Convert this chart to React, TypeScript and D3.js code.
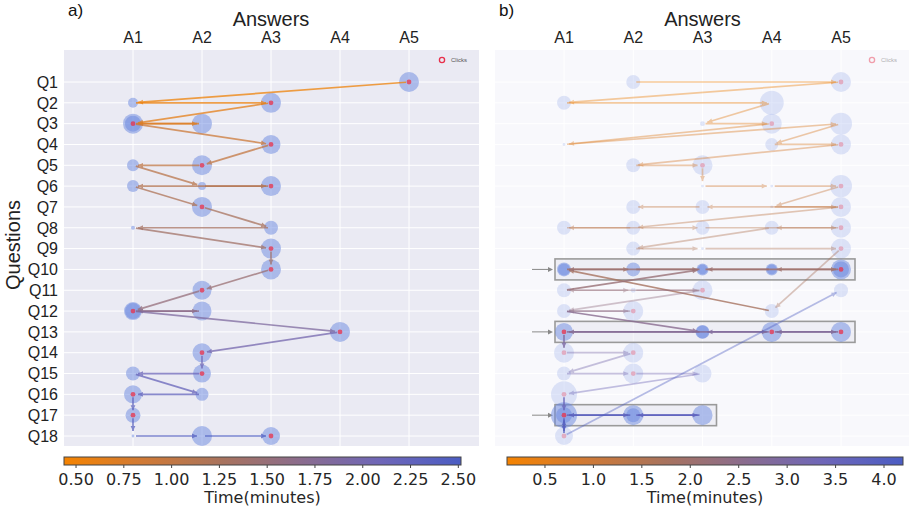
import React from 'react';
import * as d3 from 'd3';

const QUESTIONS = ['Q1','Q2','Q3','Q4','Q5','Q6','Q7','Q8','Q9','Q10','Q11','Q12','Q13','Q14','Q15','Q16','Q17','Q18'];
const ANSWERS = ['A1','A2','A3','A4','A5'];

// colormap stops (low time -> high time)
const CMAP_STOPS = ['#f58300', '#d07a36', '#a8735e', '#8a6c8e', '#6e66b8', '#4b5dc3'];

// colorbar ranges and ticks
const TIME_DOMAIN_A = [0.437, 2.514];
const TIME_TICKS_A = [0.5, 0.75, 1.0, 1.25, 1.5, 1.75, 2.0, 2.25, 2.5];
const TIME_DOMAIN_B = [0.108, 4.196];
const TIME_TICKS_B = [0.5, 1.0, 1.5, 2.0, 2.5, 3.0, 3.5, 4.0];

// nodes: [question, answer, dwell size, clicked]
const NODES_A: [number, number, number, number][] = [
  [1,5,100,1],[2,1,25,0],[2,3,100,1],[3,1,100,1],[3,1,64,0],[3,2,100,0],[4,3,90,1],
  [5,1,36,0],[5,2,100,1],[6,1,36,0],[6,2,16,0],[6,3,100,1],[7,2,100,1],[8,1,4,0],
  [8,3,49,0],[9,3,100,1],[10,3,100,1],[11,2,90,1],[12,1,81,1],[12,1,64,0],[12,2,90,0],
  [13,4,100,1],[14,2,90,1],[15,1,49,0],[15,2,81,1],[16,1,81,1],[16,2,42,0],[17,1,56,1],
  [18,1,2,0],[18,2,100,0],[18,3,81,1],
];

// transitions: [fromQ, fromA, toQ, toA, time(minutes)]
const SEGS_A: [number, number, number, number, number][] = [
  [1,5,2,1,0.5],[2,1,2,3,0.55],[2,3,3,1,0.62],[3,1,3,2,0.68],[3,2,3,1,0.72],[3,1,4,3,0.88],
  [4,3,5,2,0.98],[5,2,5,1,1.02],[5,1,6,2,1.08],[6,2,6,3,1.12],[6,3,6,1,1.15],[6,1,7,2,1.2],
  [7,2,8,3,1.26],[8,3,8,1,1.3],[8,1,9,3,1.35],[9,3,10,3,1.4],[10,3,11,2,1.45],[11,2,12,1,1.52],
  [12,1,12,2,1.6],[12,2,12,1,1.66],[12,1,13,4,1.85],[13,4,14,2,2.0],[14,2,15,2,2.08],
  [15,2,15,1,2.13],[15,1,16,2,2.18],[16,2,16,1,2.24],[16,1,17,1,2.3],[17,1,18,1,2.35],
  [18,1,18,2,2.4],[18,2,18,3,2.48],
];

const NODES_B: [number, number, number, number][] = [
  [1,2,49,0],[1,5,100,1],[2,1,49,0],[2,4,144,0],[3,3,6,0],[3,4,100,1],[3,5,121,0],
  [4,1,2,0],[4,4,42,0],[4,5,100,1],[5,2,49,0],[5,3,100,1],[6,3,2,0],[6,4,2,0],[6,5,121,1],
  [7,2,49,0],[7,3,49,0],[7,4,2,0],[7,5,100,1],[8,1,49,0],[8,2,49,0],[8,3,49,0],[8,4,49,0],
  [8,5,100,1],[9,2,49,0],[9,3,2,0],[9,5,100,1],
  [10,1,49,0],[10,1,36,0],[10,2,49,0],[10,3,36,0],[10,3,25,0],[10,4,36,0],[10,4,25,0],[10,5,100,1],[10,5,64,0],
  [11,1,49,0],[11,2,6,0],[11,3,100,1],[11,5,49,0],[12,1,49,0],[12,2,100,1],[12,4,49,0],
  [13,1,81,1],[13,3,49,0],[13,3,42,0],[13,4,100,1],[13,5,100,1],
  [14,1,100,1],[14,2,100,1],[15,1,49,0],[15,2,100,1],[15,3,81,0],[16,1,169,1],
  [17,1,169,1],[17,1,64,0],[17,2,100,0],[17,2,49,0],[17,3,100,0],[18,1,81,1],
];

const SEGS_B: [number, number, number, number, number][] = [
  [1,2,1,5,0.2],[1,5,2,1,0.3],[2,1,2,4,0.4],[2,4,3,3,0.5],[3,3,3,4,0.55],[3,4,4,1,0.6],
  [4,1,3,5,0.65],[3,5,4,4,0.7],[4,4,4,5,0.75],[4,5,5,2,0.8],[5,2,5,3,0.85],[5,3,6,3,0.9],
  [6,3,6,4,0.95],[6,4,6,5,1.0],[6,5,7,4,1.1],[7,4,7,5,1.15],[7,5,7,3,1.2],[7,3,7,2,1.25],
  [7,5,8,2,1.3],[8,2,8,1,1.35],[8,1,8,3,1.4],[8,3,8,5,1.45],[8,5,8,4,1.5],[8,4,9,2,1.55],
  [9,2,9,3,1.6],[9,3,9,5,1.65],[9,5,12,4,1.7],[12,4,10,1,1.78],[10,1,10,2,1.85],[10,2,10,3,1.9],
  [10,3,10,5,1.95],[10,5,10,4,2.0],[10,4,10,3,2.05],[10,3,10,1,2.1],[11,1,10,3,2.15],
  [11,3,11,1,2.2],[11,1,11,2,2.25],[11,2,11,3,2.3],[11,3,12,1,2.35],[12,1,12,2,2.4],
  [12,2,12,1,2.45],[12,1,13,3,2.6],[13,3,13,1,2.65],[13,1,13,4,2.7],[13,4,13,5,2.75],
  [13,5,13,4,2.8],[13,4,13,3,2.85],[13,1,14,1,2.95],[14,1,14,2,3.05],[14,2,15,1,3.15],
  [15,1,15,2,3.2],[15,2,15,3,3.25],[15,3,16,1,3.35],[16,1,17,1,3.5],[17,1,17,2,3.6],
  [17,2,17,3,3.7],[17,3,17,2,3.8],[17,2,17,1,3.85],[17,1,18,1,3.9],[18,1,17,1,3.95],
  [18,1,11,5,4.1],
];

// highlighted rows in panel b: [question, last answer]
const FOCUS_B: [number, number][] = [[10,5],[13,5],[17,3]];

const W = 909, H = 514;
const PLOT_TOP = 50, PLOT_BOTTOM = 446;
const yScale = d3.scalePoint<string>().domain(QUESTIONS).range([82, 436]);
const rScale = d3.scaleSqrt().domain([0, 100]).range([0, 10]);
const cmap = d3.piecewise(d3.interpolateRgb, CMAP_STOPS);
const SANS = "'Liberation Sans', Arial, sans-serif";
const DJV = "'DejaVu Sans', sans-serif";

function arrowGeom(x0: number, y0: number, x1: number, y1: number) {
  const dx = x1 - x0, dy = y1 - y0;
  const L = Math.sqrt(dx * dx + dy * dy) || 1;
  const ux = dx / L, uy = dy / L;
  const sx = x0 + ux * 3, sy = y0 + uy * 3;
  const tx = x1 - ux * 5, ty = y1 - uy * 5;
  const bx = tx - ux * 5, by = ty - uy * 5;
  const px = -uy * 2.4, py = ux * 2.4;
  return { sx, sy, tx, ty, head: `M${tx},${ty}L${bx + px},${by + py}L${bx - px},${by - py}Z` };
}

function Panel(props: {
  label: string; plotLeft: number; plotRight: number; xRange: [number, number];
  nodes: [number, number, number, number][]; segs: [number, number, number, number, number][];
  domain: number[]; ticks: number[]; fmt: string; cbLeft: number; cbRight: number;
  bg: string; faded: boolean; focus: [number, number][]; showY: boolean; id: string;
}) {
  const { plotLeft, plotRight, nodes, segs, domain, ticks, fmt, cbLeft, cbRight, bg, faded, focus, showY, id } = props;
  const x = d3.scalePoint<string>().domain(ANSWERS).range(props.xRange);
  const color = d3.scaleSequential(cmap).domain(domain as [number, number]);
  const cb = d3.scaleLinear().domain(domain).range([cbLeft, cbRight]);
  const focusQs = focus.map(f => f[0]);
  const isFocusQ = (q: number) => focusQs.includes(q);
  const cx = (a: number) => x(ANSWERS[a - 1]) as number;
  const cy = (q: number) => yScale(QUESTIONS[q - 1]) as number;
  const midX = (props.xRange[0] + props.xRange[1]) / 2;
  const gradStops = d3.range(0, 1.0001, 0.05);
  const f = d3.format(fmt);

  return (
    <g>
      <defs>
        <linearGradient id={`grad-${id}`} x1="0" x2="1" y1="0" y2="0">
          {gradStops.map((t, i) => <stop key={i} offset={t} stopColor={cmap(t)} />)}
        </linearGradient>
      </defs>
      <rect x={plotLeft} y={PLOT_TOP} width={plotRight - plotLeft} height={PLOT_BOTTOM - PLOT_TOP} fill={bg} />
      {ANSWERS.map(a => (
        <line key={a} x1={x(a)} x2={x(a)} y1={PLOT_TOP} y2={PLOT_BOTTOM} stroke="#fff" strokeWidth={1} />
      ))}
      {QUESTIONS.map(q => (
        <line key={q} x1={plotLeft} x2={plotRight} y1={yScale(q)} y2={yScale(q)} stroke="#fff" strokeWidth={1} />
      ))}
      <text x={plotLeft + 4} y={16} fontFamily={SANS} fontSize={17} fill="#111">{props.label}</text>
      <text x={midX} y={26} textAnchor="middle" fontFamily={SANS} fontSize={20} fill="#222">Answers</text>
      {ANSWERS.map(a => (
        <text key={a} x={x(a)} y={43} textAnchor="middle" fontFamily={SANS} fontSize={16} fill="#222">{a}</text>
      ))}
      {showY && QUESTIONS.map(q => (
        <text key={q} x={58} y={yScale(q)} dy="0.36em" textAnchor="end" fontFamily={SANS} fontSize={16} fill="#222">{q}</text>
      ))}
      {showY && (
        <text transform={`translate(20,245) rotate(-90)`} textAnchor="middle" fontFamily={SANS} fontSize={20} fill="#222">Questions</text>
      )}
      {/* highlight boxes */}
      {focus.map(([q, aEnd]) => (
        <g key={`f${q}`}>
          <rect x={cx(1) - 9} y={cy(q) - 10.5} width={cx(aEnd) + 14 - (cx(1) - 9)} height={21}
            fill="rgba(170,170,200,0.12)" stroke="#9a9a9a" strokeWidth={1.6} />
          <line x1={cx(1) - 32} x2={cx(1) - 14} y1={cy(q)} y2={cy(q)} stroke="#888" strokeWidth={1} />
          <path d={`M${cx(1) - 11},${cy(q)}L${cx(1) - 16},${cy(q) - 2.5}L${cx(1) - 16},${cy(q) + 2.5}Z`} fill="#888" />
        </g>
      ))}
      {/* nodes */}
      {nodes.map(([q, a, s], i) => (
        <circle key={`n${i}`} cx={cx(a)} cy={cy(q)} r={rScale(s)} fill="#6a88e0"
          fillOpacity={faded ? (isFocusQ(q) ? 0.5 : 0.2) : 0.5} />
      ))}
      {/* transitions */}
      {segs.map(([q0, a0, q1, a1, t], i) => {
        const g = arrowGeom(cx(a0), cy(q0), cx(a1), cy(q1));
        const op = faded ? ((isFocusQ(q0) || isFocusQ(q1)) ? 0.8 : 0.4) : 0.75;
        const c = color(t);
        return (
          <g key={`s${i}`} opacity={op}>
            <line x1={g.sx} y1={g.sy} x2={g.tx} y2={g.ty} stroke={c} strokeWidth={1.7} />
            <path d={g.head} fill={c} />
          </g>
        );
      })}
      {/* click markers */}
      {nodes.filter(n => n[3] === 1).map(([q, a], i) => (
        <circle key={`c${i}`} cx={cx(a)} cy={cy(q)} r={2.4} fill="#e8304a"
          fillOpacity={faded ? (isFocusQ(q) ? 0.75 : 0.3) : 0.75} />
      ))}
      {/* legend */}
      <g opacity={faded ? 0.45 : 1}>
        <circle cx={plotRight - 37} cy={60} r={2.6} fill="none" stroke="#e8304a" strokeWidth={1.3} />
        <text x={plotRight - 28} y={62} fontFamily={SANS} fontSize={6} fill="#555">Clicks</text>
      </g>
      {/* colorbar */}
      <rect x={cbLeft} y={457} width={cbRight - cbLeft} height={8} fill={`url(#grad-${id})`} stroke="#444" strokeWidth={1} />
      {ticks.map(t => (
        <g key={t}>
          <line x1={cb(t)} x2={cb(t)} y1={465} y2={468} stroke="#444" strokeWidth={1} />
          <text x={cb(t)} y={485} textAnchor="middle" fontFamily={DJV} fontSize={16} fill="#262626">{f(t)}</text>
        </g>
      ))}
      <text x={(cbLeft + cbRight) / 2} y={503} textAnchor="middle" fontFamily={DJV} fontSize={16} fill="#262626">Time(minutes)</text>
    </g>
  );
}

export default function App() {
  return (
    <svg width={W} height={H} style={{ position: 'absolute', left: 0, top: 0, background: '#fff' }}>
      <Panel id="a" label="a)" plotLeft={64} plotRight={479} xRange={[133, 409]} nodes={NODES_A} segs={SEGS_A}
        domain={TIME_DOMAIN_A} ticks={TIME_TICKS_A} fmt=".2f" cbLeft={64} cbRight={461}
        bg="#eaeaf3" faded={false} focus={[]} showY={true} />
      <Panel id="b" label="b)" plotLeft={495} plotRight={909} xRange={[564, 841]} nodes={NODES_B} segs={SEGS_B}
        domain={TIME_DOMAIN_B} ticks={TIME_TICKS_B} fmt=".1f" cbLeft={507} cbRight={903}
        bg="#f8f8fc" faded={true} focus={FOCUS_B} showY={false} />
    </svg>
  );
}
